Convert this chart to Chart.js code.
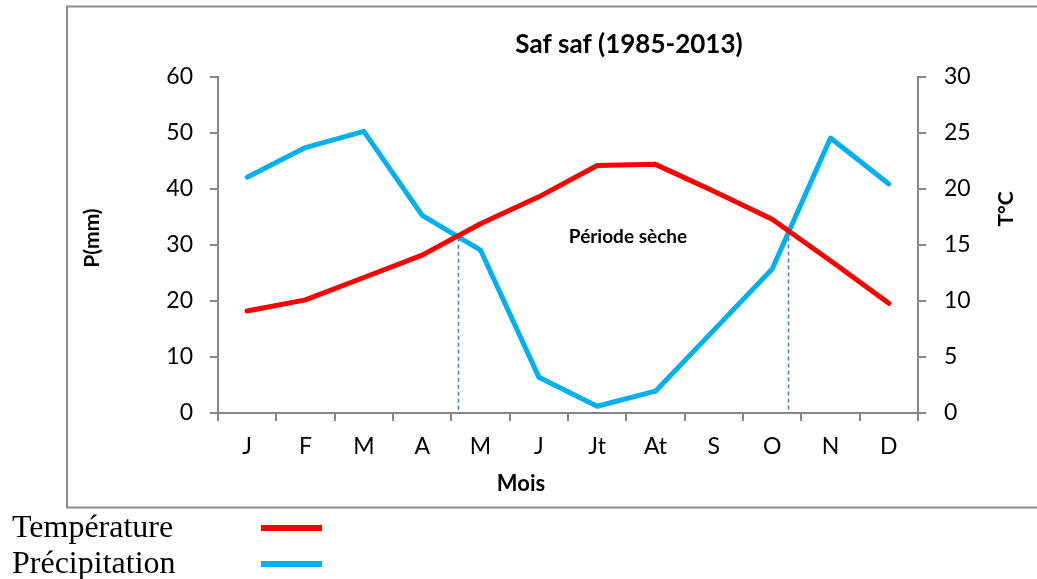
<!DOCTYPE html>
<html>
<head>
<meta charset="utf-8">
<script src="https://cdn.jsdelivr.net/npm/chart.js@4/dist/chart.umd.min.js"></script>
<style>
html,body{margin:0;padding:0;background:#fff;overflow:hidden}
canvas{display:block}
</style>
</head>
<body>
<canvas id="c" width="1037" height="579"></canvas>
<script>
// ---- data ----
const months = ['J','F','M','A','M','J','Jt','At','S','O','N','D'];
const temperature = [9.1, 10.1, 12.1, 14.1, 16.9, 19.3, 22.1, 22.2, 19.8, 17.3, 13.6, 9.8];
const precipitation = [42.1, 47.4, 50.3, 35.3, 29.1, 6.4, 1.2, 3.9, 14.8, 25.7, 49.1, 40.9];
const precipTicks = [0, 10, 20, 30, 40, 50, 60];
const tempTicks = [0, 5, 10, 15, 20, 25, 30];
// dry period limits: fractional month index, precipitation level (mm) where the curves cross
const dryStart = [3.61, 31.3];
const dryEnd = [9.28, 32.6];

const titleText = 'Saf saf (1985-2013)';
const xTitle = 'Mois';
const yTitle = 'P(mm)';
const y1Title = 'T°C';
const dryLabel = 'Période sèche';
const legendItems = [['Température', '#FF0000'], ['Précipitation', '#00B0F0']];

const FONT = 'Lato, "Open Sans", sans-serif';
const AXIS = '#868686';

const decor = {
  id: 'decor',
  beforeDraw(chart) {
    const ctx = chart.ctx;
    ctx.save();
    ctx.fillStyle = '#fff';
    ctx.fillRect(0, 0, chart.width, chart.height);
    ctx.strokeStyle = '#8c8c8c';
    ctx.lineWidth = 2;
    ctx.strokeRect(67, 6.5, 1040, 501);
    ctx.restore();
  },
  beforeDatasetsDraw(chart) {
    const ctx = chart.ctx, xs = chart.scales.x, ys = chart.scales.y;
    const fx = v => {
      const i = Math.floor(v);
      const p0 = xs.getPixelForValue(i), p1 = xs.getPixelForValue(i + 1);
      return p0 + (v - i) * (p1 - p0);
    };
    ctx.save();
    ctx.strokeStyle = '#4A7EC7';
    ctx.lineWidth = 1.5;
    ctx.setLineDash([4, 3]);
    [dryStart, dryEnd].forEach(d => {
      const x = Math.round(fx(d[0])) + 0.5;
      ctx.beginPath();
      ctx.moveTo(x, ys.getPixelForValue(d[1]));
      ctx.lineTo(x, chart.chartArea.bottom);
      ctx.stroke();
    });
    ctx.restore();
  },
  afterDraw(chart) {
    const ctx = chart.ctx;
    ctx.save();
    ctx.fillStyle = '#000';
    ctx.textAlign = 'center';
    ctx.textBaseline = 'middle';
    ctx.font = 'bold 26px ' + FONT;
    ctx.fillText(titleText, 629, 45);
    ctx.font = 'bold 19px ' + FONT;
    ctx.fillText(dryLabel, 628, 237);
    ctx.font = 'bold 22px ' + FONT;
    ctx.fillText(xTitle, 521, 484);
    ctx.font = 'bold 21px ' + FONT;
    ctx.save();
    ctx.translate(92, 238);
    ctx.rotate(-Math.PI / 2);
    ctx.fillText(yTitle, 0, 0);
    ctx.restore();
    ctx.save();
    ctx.translate(1006, 209);
    ctx.rotate(-Math.PI / 2);
    ctx.fillText(y1Title, 0, 0);
    ctx.restore();
    // legend
    ctx.textAlign = 'left';
    ctx.textBaseline = 'alphabetic';
    ctx.font = '32px "Liberation Serif", "Times New Roman", serif';
    legendItems.forEach((it, i) => {
      const base = 537 + i * 36;
      ctx.fillStyle = '#000';
      ctx.fillText(it[0], 12, base);
      ctx.fillStyle = it[1];
      ctx.fillRect(261, base - 12, 61, 6);
    });
    ctx.restore();
  }
};

new Chart(document.getElementById('c'), {
  type: 'line',
  data: {
    labels: months,
    datasets: [
      {
        label: 'Température',
        data: temperature,
        yAxisID: 'y1',
        borderColor: '#FF0000',
        backgroundColor: '#FF0000',
        borderWidth: 5,
        pointRadius: 0,
        tension: 0,
        borderJoinStyle: 'round',
        borderCapStyle: 'round'
      },
      {
        label: 'Précipitation',
        data: precipitation,
        yAxisID: 'y',
        borderColor: '#00B0F0',
        backgroundColor: '#00B0F0',
        borderWidth: 5,
        pointRadius: 0,
        tension: 0,
        borderJoinStyle: 'round',
        borderCapStyle: 'round'
      }
    ]
  },
  options: {
    responsive: false,
    animation: false,
    devicePixelRatio: 1,
    layout: { padding: { top: 77, left: 0, right: 0, bottom: 0 } },
    plugins: { legend: { display: false }, title: { display: false }, tooltip: { enabled: false } },
    scales: {
      x: {
        offset: true,
        grid: { offset: true, drawOnChartArea: false, drawTicks: true, tickLength: 8, color: AXIS, lineWidth: 2 },
        border: { color: AXIS, width: 2 },
        ticks: { color: '#000', font: { family: FONT, size: 23 }, padding: 12, maxRotation: 0, autoSkip: false },
        afterFit(s) { s.height = 166; }
      },
      y: {
        position: 'left',
        min: precipTicks[0],
        max: precipTicks[precipTicks.length - 1],
        afterBuildTicks(s) { s.ticks = precipTicks.map(v => ({ value: v })); },
        grid: { drawOnChartArea: false, drawTicks: true, tickLength: 8, color: AXIS, lineWidth: 2 },
        border: { color: AXIS, width: 2 },
        ticks: { color: '#000', font: { family: FONT, size: 23 }, padding: 17 },
        afterFit(s) { s.width = 218; }
      },
      y1: {
        position: 'right',
        min: tempTicks[0],
        max: tempTicks[tempTicks.length - 1],
        afterBuildTicks(s) { s.ticks = tempTicks.map(v => ({ value: v })); },
        grid: { drawOnChartArea: false, drawTicks: true, tickLength: 8, color: AXIS, lineWidth: 2 },
        border: { color: AXIS, width: 2 },
        ticks: { color: '#000', font: { family: FONT, size: 23 }, padding: 18 },
        afterFit(s) { s.width = 119; }
      }
    }
  },
  plugins: [decor]
});
</script>
</body>
</html>
